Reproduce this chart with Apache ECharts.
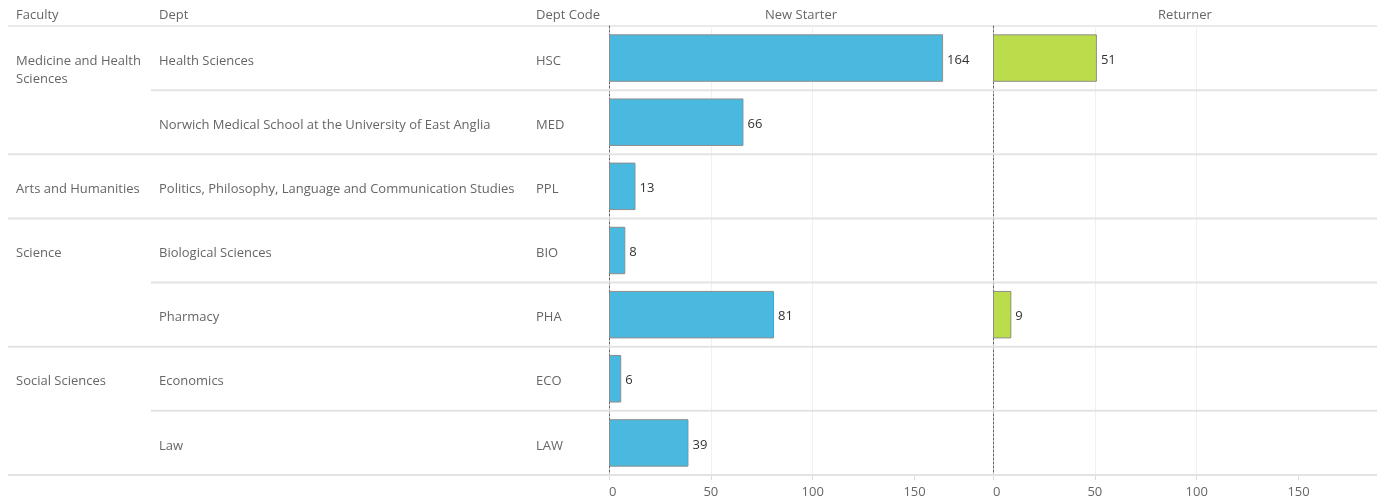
<!DOCTYPE html>
<html><head><meta charset="utf-8">
<script src="https://cdn.jsdelivr.net/npm/echarts@6/dist/echarts.min.js"></script>
<style>html,body{margin:0;padding:0;background:#fff}#c{width:1390px;height:504px}</style>
</head><body><div id="c"></div>
<script>
// ---- data ----
const faculties = ['Medicine and Health Sciences','Medicine and Health Sciences','Arts and Humanities','Science','Science','Social Sciences','Social Sciences'];
const depts = ['Health Sciences','Norwich Medical School at the University of East Anglia','Politics, Philosophy, Language and Communication Studies','Biological Sciences','Pharmacy','Economics','Law'];
const deptCodes = ['HSC','MED','PPL','BIO','PHA','ECO','LAW'];
const newStarter = [164, 66, 13, 8, 81, 6, 39];
const returner = [51, null, null, null, 9, null, null];
const columnHeaders = ['Faculty', 'Dept', 'Dept Code'];
const panelHeaders = ['New Starter', 'Returner'];
const axisTicks = [0, 50, 100, 150];

// ---- style / layout ----
const FONT = '"Open Sans", "Noto Sans", sans-serif';
const FS = 13;
const TXT = '#666';
const LINE = '#e3e3e3';
const TOP = 26, H = 449;
const P1 = 609, P2 = 993, PW = 384, AX_MAX = 188.5;
const LINE_RIGHT = 1377;
const colX = [16, 159, 536];
const TY = 2; // small vertical nudge for text centring

const chart = echarts.init(document.getElementById('c'));

function valueAxis(gi) {
  return {
    gridIndex: gi, type: 'value', min: 0, max: AX_MAX, interval: 50,
    axisLine: { show: false },
    axisTick: { show: true, length: 5, customValues: axisTicks, lineStyle: { color: '#dcdcdc' } },
    axisLabel: { color: TXT, fontSize: FS, fontFamily: FONT, margin: 11, customValues: axisTicks, alignMinLabel: 'left' },
    splitLine: { show: true, showMaxLine: false, lineStyle: { color: '#f0f0f0', width: 1 } }
  };
}
function catAxis(gi) {
  return {
    gridIndex: gi, type: 'category', data: deptCodes, inverse: true,
    axisLine: { show: true, lineStyle: { color: '#666', type: [2, 2], width: 1 } },
    axisTick: { show: false }, axisLabel: { show: false }, splitLine: { show: false }
  };
}

const font = FS + 'px ' + FONT;
const graphics = [];
columnHeaders.forEach((t, i) => graphics.push({ type: 'text', x: colX[i], y: 13 + TY, style: { text: t, fill: TXT, font: font, verticalAlign: 'middle' } }));
graphics.push({ type: 'text', x: (P1 + P2) / 2, y: 13 + TY, style: { text: panelHeaders[0], fill: TXT, font: font, align: 'center', verticalAlign: 'middle' } });
graphics.push({ type: 'text', x: (P2 + LINE_RIGHT) / 2, y: 13 + TY, style: { text: panelHeaders[1], fill: TXT, font: font, align: 'center', verticalAlign: 'middle' } });
graphics.push({ type: 'line', shape: { x1: 8, y1: TOP, x2: LINE_RIGHT, y2: TOP }, style: { stroke: LINE, lineWidth: 1.5 } });

const barLabel = { show: true, position: 'right', distance: 4, color: '#333', fontSize: FS, fontFamily: FONT, offset: [0, TY] };

const option = {
  animation: false,
  backgroundColor: '#fff',
  grid: [
    { left: 0, top: TOP, width: 1390, height: H, containLabel: false },
    { left: P1, top: TOP, width: PW, height: H, containLabel: false },
    { left: P2, top: TOP, width: PW, height: H, containLabel: false }
  ],
  xAxis: [
    { gridIndex: 0, type: 'value', min: 0, max: 1390, show: false },
    valueAxis(1), valueAxis(2)
  ],
  yAxis: [
    { gridIndex: 0, type: 'category', data: deptCodes, inverse: true, show: false },
    catAxis(1), catAxis(2)
  ],
  graphic: graphics,
  series: [
    {
      type: 'custom', xAxisIndex: 0, yAxisIndex: 0, z: 1,
      data: depts.map((d, i) => [0, i]),
      renderItem: function (params, api) {
        const i = api.value(1);
        const yc = api.coord([0, i])[1];
        const h = api.size([0, 1])[1];
        const first = i === 0 || faculties[i] !== faculties[i - 1];
        const last = i === faculties.length - 1 || faculties[i + 1] !== faculties[i];
        const ch = [];
        if (first) ch.push({ type: 'text', style: { text: faculties[i], x: api.coord([colX[0], i])[0], y: yc - 8 + TY, width: 134, overflow: 'break', lineHeight: 18, fill: TXT, font: font, verticalAlign: 'top' } });
        ch.push({ type: 'text', style: { text: depts[i], x: api.coord([colX[1], i])[0], y: yc + 1 + TY, fill: TXT, font: font, verticalAlign: 'middle' } });
        ch.push({ type: 'text', style: { text: deptCodes[i], x: api.coord([colX[2], i])[0], y: yc + 1 + TY, fill: TXT, font: font, verticalAlign: 'middle' } });
        const ly = yc + h / 2;
        ch.push({ type: 'line', shape: { x1: last ? 8 : 151, y1: ly, x2: LINE_RIGHT, y2: ly }, style: { stroke: LINE, lineWidth: 2 } });
        return { type: 'group', children: ch };
      }
    },
    {
      name: panelHeaders[0], type: 'bar', xAxisIndex: 1, yAxisIndex: 1, data: newStarter, barWidth: '74%',
      itemStyle: { color: '#4AB9DF', borderColor: '#8c8c8c', borderWidth: 1 },
      label: barLabel
    },
    {
      name: panelHeaders[1], type: 'bar', xAxisIndex: 2, yAxisIndex: 2, data: returner, barWidth: '74%',
      itemStyle: { color: '#BCDD4B', borderColor: '#8c8c8c', borderWidth: 1 },
      label: barLabel
    }
  ]
};
chart.setOption(option);
</script></body></html>
